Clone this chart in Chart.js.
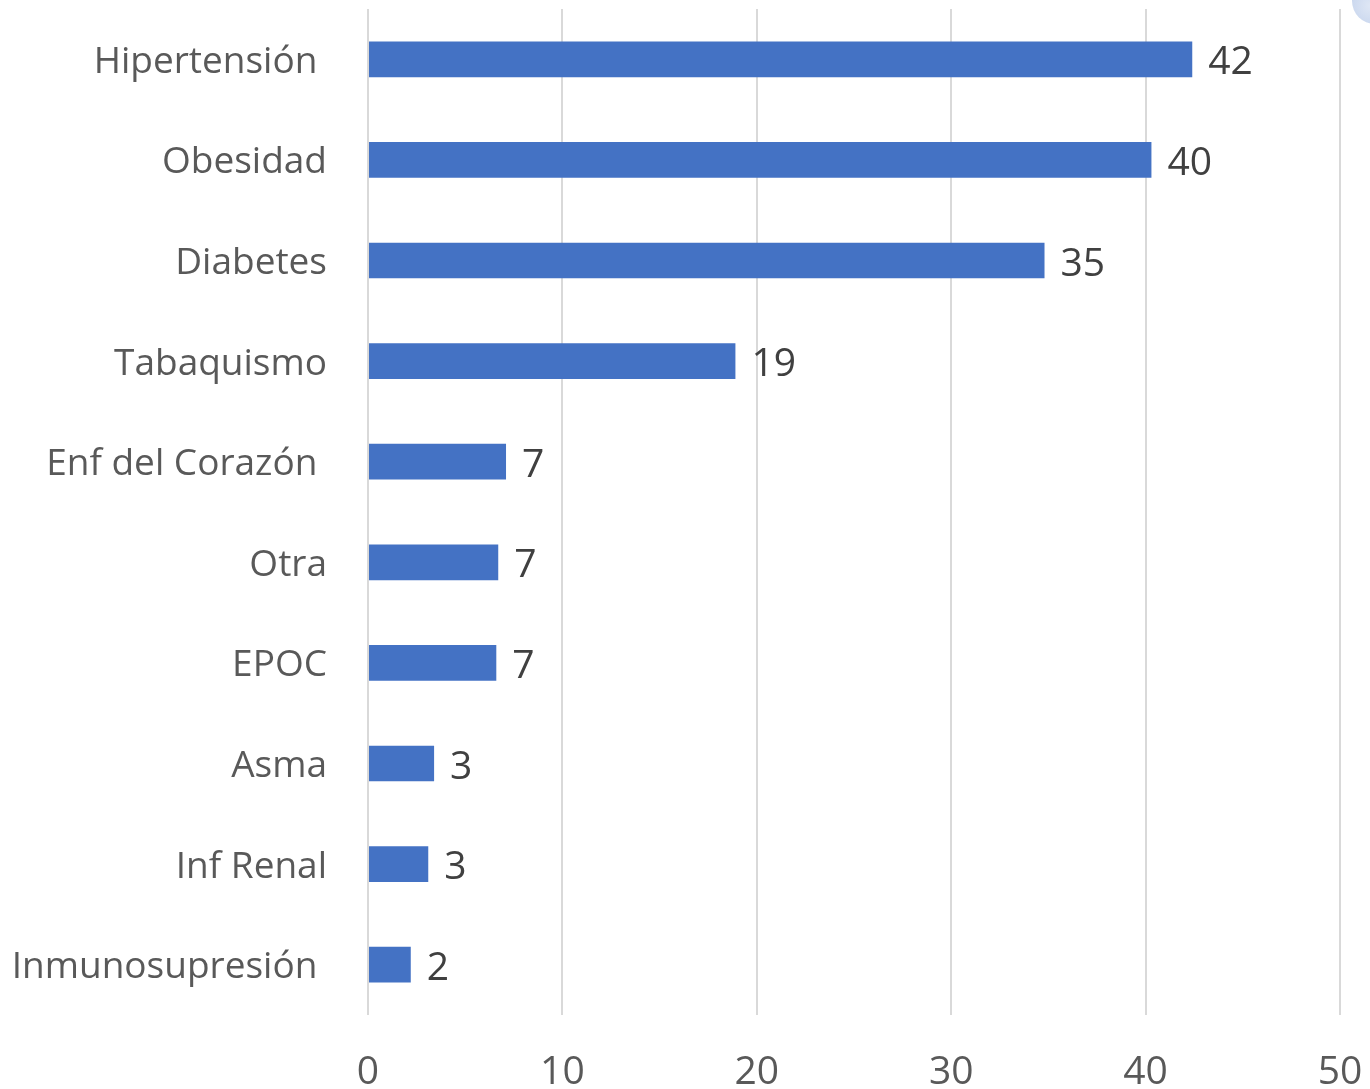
<!DOCTYPE html>
<html>
<head>
<meta charset="utf-8">
<script src="https://cdn.jsdelivr.net/npm/chart.js@4.4.1/dist/chart.umd.min.js"></script>
<style>
  html, body { margin: 0; padding: 0; background: #ffffff; overflow: hidden; }
  #wrap { position: relative; width: 1370px; height: 1089px; overflow: hidden; }
  #dot { position: absolute; left: 1352px; top: -22px; width: 46px; height: 46px; border-radius: 50%;
         background: radial-gradient(circle at 40% 60%, #dfe7f5 0%, #c3d2ec 70%, #b9c9e8 100%); }
</style>
</head>
<body>
<div id="wrap"><canvas id="c" width="1370" height="1089"></canvas><div id="dot"></div></div>
<script>
const categories = ["Hipertensión ", "Obesidad", "Diabetes", "Tabaquismo", "Enf del Corazón ", "Otra", "EPOC", "Asma", "Inf Renal", "Inmunosupresión "];
const values = [42.4, 40.3, 34.8, 18.9, 7.1, 6.7, 6.6, 3.4, 3.1, 2.2];
const valueLabels = ["42", "40", "35", "19", "7", "7", "7", "3", "3", "2"];
const xTicks = [0, 10, 20, 30, 40, 50];

const FONT = "'Open Sans', Lato, sans-serif";

const valueLabelPlugin = {
  id: 'valueLabels',
  afterDatasetsDraw(chart) {
    const ctx = chart.ctx;
    const meta = chart.getDatasetMeta(0);
    ctx.save();
    ctx.font = "39px " + FONT;
    ctx.fillStyle = "#404040";
    ctx.textAlign = "left";
    ctx.textBaseline = "middle";
    meta.data.forEach((bar, i) => {
      ctx.fillText(valueLabels[i], bar.x + 16, bar.y + 4);
    });
    ctx.restore();
  }
};

new Chart(document.getElementById('c'), {
  type: 'bar',
  data: {
    labels: categories,
    datasets: [{
      data: values,
      backgroundColor: '#4472C4',
      borderWidth: 0,
      categoryPercentage: 1.0,
      barPercentage: 0.355
    }]
  },
  options: {
    indexAxis: 'y',
    responsive: false,
    animation: false,
    events: [],
    layout: { padding: { top: 9, right: 30, left: 0, bottom: 0 } },
    plugins: { legend: { display: false }, tooltip: { enabled: false } },
    scales: {
      x: {
        min: 0, max: 50,
        afterBuildTicks(scale) { scale.ticks = xTicks.map(v => ({ value: v })); },
        afterFit(scale) { scale.height = 74; scale.paddingLeft = 0; scale.paddingRight = 0; },
        grid: { color: '#d9d9d9', lineWidth: 2, drawTicks: false },
        border: { display: false },
        ticks: { color: '#595959', font: { family: FONT, size: 39 }, padding: 34 }
      },
      y: {
        afterFit(scale) { scale.width = 368; scale.paddingTop = 0; scale.paddingBottom = 0; },
        grid: { display: false, drawTicks: false },
        border: { display: false },
        ticks: { color: '#595959', font: { family: FONT, size: 37 }, padding: 41, labelOffset: 3 }
      }
    }
  },
  plugins: [valueLabelPlugin]
});
</script>
</body>
</html>
